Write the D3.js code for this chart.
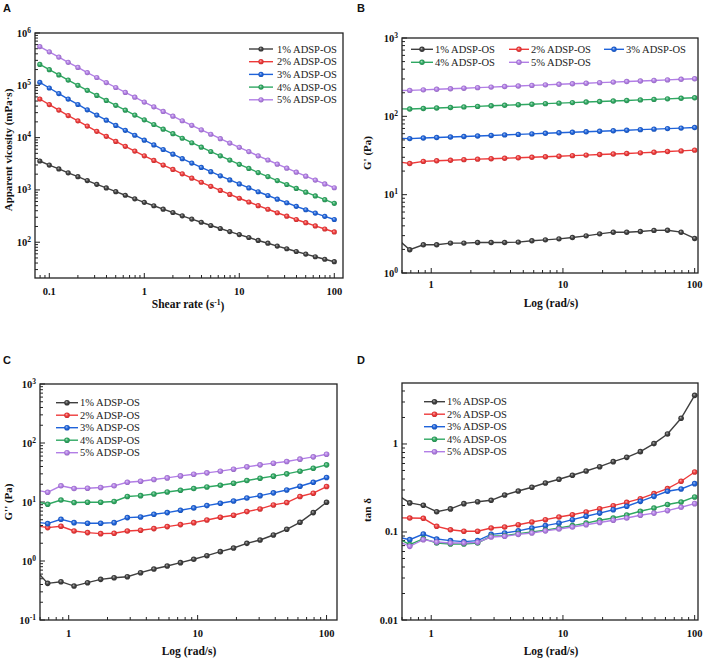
<!DOCTYPE html>
<html><head><meta charset="utf-8">
<script src="https://cdn.jsdelivr.net/npm/d3@7/dist/d3.min.js"></script>
<style>
html,body{margin:0;padding:0;background:#fff;}
svg{display:block;}
</style></head>
<body>
<svg id="chart" width="708" height="660"></svg>
<script>
// ---------------- DATA ----------------
const seriesNames = ["1% ADSP-OS","2% ADSP-OS","3% ADSP-OS","4% ADSP-OS","5% ADSP-OS"];

// Panel A: shear rate (1/s) and apparent viscosity (mPa·s)
const shearRate = [0.0794,0.1,0.126,0.158,0.2,0.251,0.316,0.398,0.501,0.631,0.794,1,1.26,1.58,2,2.51,3.16,3.98,5.01,6.31,7.94,10,12.6,15.8,20,25.1,31.6,39.8,50.1,63.1,79.4,100];
const visc1 = [3570,2990,2520,2120,1790,1510,1280,1090,927,791,676,579,498,429,370,320,277,241,209,183,160,140,123,108,95.7,84.5,75.0,66.5,59.3,52.8,47.3,42.4];
const visc2 = [54700,42800,33600,26400,20900,16600,13200,10600,8470,6820,5520,4490,3660,2990,2460,2030,1680,1400,1170,977,820,693,587,500,427,366,315,272,236,205,179,157];
const visc3 = [114000,88900,69500,54600,43000,34000,27000,21500,17100,13800,11100,8950,7260,5920,4830,3960,3260,2690,2230,1860,1550,1300,1090,923,782,665,568,486,418,361,313,272];
const visc4 = [251000,199000,158000,126000,100000,80000,64100,51400,41400,33400,27000,21900,17800,14500,11900,9730,7980,6560,5420,4480,3720,3080,2570,2150,1800,1510,1270,1070,904,766,652,555];
const visc5 = [550000,436000,346000,275000,220000,175000,141000,113000,90800,73100,59200,47900,38800,31600,25700,21000,17200,14100,11600,9530,7870,6520,5400,4480,3730,3110,2600,2180,1830,1540,1300,1100];

// Panels B-D: angular frequency (rad/s); first point lies left of the visible axis
const freq = [0.542,0.687,0.871,1.10,1.40,1.77,2.25,2.85,3.61,4.58,5.81,7.36,9.33,11.8,15.0,19.0,24.1,30.5,38.7,49.1,62.2,78.9,100];

// Panel B: storage modulus G' (Pa)
const gp1 = [2.80,1.98,2.29,2.29,2.41,2.41,2.45,2.45,2.45,2.48,2.58,2.65,2.73,2.84,2.98,3.16,3.32,3.32,3.39,3.50,3.52,3.32,2.76];
const gp2 = [26.5,25.0,26.6,27.1,27.5,28.0,28.4,28.8,29.2,29.6,30.0,30.5,31.0,31.5,32.0,32.5,33.1,33.6,34.2,34.8,35.5,36.2,37.0];
const gp3 = [52.5,52.0,52.8,53.6,54.5,55.3,56.2,57.0,57.9,58.8,59.7,60.7,61.6,62.6,63.5,64.5,65.5,66.5,67.6,68.6,69.7,70.8,71.9];
const gp4 = [125,123.9,125.9,127.9,129.9,131.9,134.0,136.2,138.4,140.6,142.8,145.1,147.4,149.7,152.1,154.5,157.0,159.5,162.0,164.6,167.2,169.9,172.6];
const gp5 = [213,214.3,217.8,221.4,225.0,228.7,232.5,236.3,240.2,244.1,248.1,252.2,256.3,260.5,264.8,269.2,273.6,278.1,282.7,287.3,292.0,296.8,301.7];

// Panel C: loss modulus G'' (Pa)
const gpp1 = [0.74,0.418,0.446,0.376,0.429,0.489,0.521,0.542,0.634,0.731,0.822,0.938,1.07,1.23,1.44,1.66,1.99,2.27,2.76,3.45,4.53,6.61,9.9];
const gpp2 = [4.0,3.68,3.88,3.23,3.03,2.91,2.95,3.23,3.32,3.54,3.83,4.14,4.47,4.96,5.51,5.96,6.88,7.63,8.92,9.78,12.4,14.1,18.3];
const gpp3 = [4.6,4.30,5.10,4.47,4.36,4.36,4.47,5.44,5.58,6.20,6.61,7.24,7.94,8.69,9.53,10.4,11.7,12.8,14.3,16.0,18.5,21.6,26.0];
const gpp4 = [10.3,9.16,10.8,9.78,9.9,9.9,10.2,12.4,12.8,13.7,14.8,15.8,16.9,18.0,19.2,20.8,23.1,25.3,27.4,30.0,33.3,37.4,42.6];
const gpp5 = [16.1,14.6,18.8,16.9,17.1,17.6,18.8,21.6,22.5,24.0,25.6,27.7,29.6,31.2,33.3,36.0,39.4,42.6,45.5,48.5,53.2,58.2,64.6];

// Panel D: loss tangent tan δ
const tan1 = [0.269,0.214,0.201,0.170,0.183,0.210,0.221,0.229,0.263,0.292,0.322,0.360,0.397,0.441,0.493,0.552,0.630,0.705,0.818,1.01,1.30,1.96,3.57];
const tan2 = [0.145,0.144,0.143,0.116,0.106,0.102,0.102,0.111,0.114,0.121,0.130,0.138,0.148,0.157,0.169,0.184,0.199,0.217,0.239,0.273,0.311,0.377,0.481];
const tan3 = [0.0885,0.0818,0.0949,0.0832,0.0797,0.0777,0.0797,0.094,0.0975,0.103,0.111,0.118,0.126,0.138,0.151,0.164,0.179,0.196,0.223,0.254,0.290,0.308,0.354];
const tan4 = [0.0867,0.0718,0.0840,0.0750,0.0731,0.0731,0.0750,0.0893,0.0908,0.0957,0.100,0.105,0.111,0.118,0.126,0.136,0.144,0.156,0.172,0.187,0.205,0.219,0.250];
const tan5 = [0.080,0.0687,0.0818,0.0769,0.0750,0.0750,0.0763,0.0877,0.0893,0.0940,0.0975,0.103,0.108,0.114,0.121,0.128,0.136,0.144,0.155,0.164,0.175,0.191,0.210];

// Tick values
const ticksA_x = [0.1,1,10,100];
const ticksA_y = [100,1000,10000,100000,1000000];
const ticksBCD_x = [1,10,100];
const ticksB_y = [1,10,100,1000];
const ticksC_y = [0.1,1,10,100,1000];
const ticksD_y = [0.01,0.1,1];

// ---------------- STYLE ----------------
const colors = ["#3f3f3f","#ee3a3a","#1f63da","#2fa862","#b27ee6"];
const serif = "'Liberation Serif','Times New Roman',serif";
const svg = d3.select("#chart");
const defs = svg.append("defs");
colors.forEach((c,i)=>{
  const g = defs.append("radialGradient").attr("id","ball"+i)
    .attr("cx","0.5").attr("cy","0.5").attr("r","0.55").attr("fx","0.38").attr("fy","0.35");
  g.append("stop").attr("offset","0%").attr("stop-color", d3.interpolateRgb(c,"#ffffff")(0.6));
  g.append("stop").attr("offset","50%").attr("stop-color", c);
  g.append("stop").attr("offset","100%").attr("stop-color", d3.interpolateRgb(c,"#000000")(0.2));
});

function expLabel(sel, v){
  const e = Math.round(Math.log10(v));
  sel.append("tspan").text("10");
  sel.append("tspan").attr("dy","-0.5em").attr("font-size","7.5px").text(String(e));
}

function minorTicks(domain){
  const out=[];
  const lo=Math.floor(Math.log10(domain[0])), hi=Math.ceil(Math.log10(domain[1]));
  for(let k=lo;k<=hi;k++){
    for(let m=2;m<=9;m++){
      const v=m*Math.pow(10,k);
      if(v>=domain[0]&&v<=domain[1]) out.push(v);
    }
  }
  return out;
}

function panel(cfg){
  const g = svg.append("g");
  const x = d3.scaleLog().domain(cfg.xDomain).range([cfg.x0,cfg.x1]);
  const y = d3.scaleLog().domain(cfg.yDomain).range([cfg.y1,cfg.y0]);
  const cid = "clip"+cfg.id;
  defs.append("clipPath").attr("id",cid).append("rect")
    .attr("x",cfg.x0).attr("y",cfg.y0).attr("width",cfg.x1-cfg.x0).attr("height",cfg.y1-cfg.y0);

  // ticks (inward)
  const tk = g.append("g").attr("stroke","#222").attr("stroke-width",1);
  cfg.xTicks.forEach(v=>tk.append("line").attr("x1",x(v)).attr("x2",x(v)).attr("y1",cfg.y1).attr("y2",cfg.y1-5));
  minorTicks(cfg.xDomain).forEach(v=>tk.append("line").attr("x1",x(v)).attr("x2",x(v)).attr("y1",cfg.y1).attr("y2",cfg.y1-3));
  cfg.yTicks.forEach(v=>tk.append("line").attr("y1",y(v)).attr("y2",y(v)).attr("x1",cfg.x0).attr("x2",cfg.x0+5));
  minorTicks(cfg.yDomain).forEach(v=>tk.append("line").attr("y1",y(v)).attr("y2",y(v)).attr("x1",cfg.x0).attr("x2",cfg.x0+3));

  // tick labels
  cfg.xTicks.forEach(v=>{
    g.append("text").attr("x",x(v)).attr("y",cfg.y1+cfg.xLabelOff)
      .attr("text-anchor","middle").attr("font-family",serif).attr("font-weight","bold")
      .attr("font-size","10.5px").attr("fill","#111").text(d3.format("~g")(v));
  });
  cfg.yTicks.forEach(v=>{
    const t = g.append("text").attr("x",cfg.x0-4).attr("y",y(v)+3.5)
      .attr("text-anchor","end").attr("font-family",serif).attr("font-weight","bold")
      .attr("font-size","10.5px").attr("fill","#111");
    if(cfg.expY) expLabel(t,v); else t.text(d3.format("~g")(v));
  });

  // series
  const plot = g.append("g").attr("clip-path","url(#"+cid+")");
  const line = d3.line().x(d=>x(d[0])).y(d=>y(d[1]));
  cfg.series.forEach((vals,i)=>{
    const pts = cfg.xs.map((xv,j)=>[xv,vals[j]]);
    plot.append("path").attr("d",line(pts)).attr("fill","none")
      .attr("stroke",colors[i]).attr("stroke-width",1.4);
    plot.selectAll(null).data(pts).enter().append("circle")
      .attr("cx",d=>x(d[0])).attr("cy",d=>y(d[1])).attr("r",cfg.r)
      .attr("fill","url(#ball"+i+")");
  });

  // frame
  g.append("rect").attr("x",cfg.x0).attr("y",cfg.y0).attr("width",cfg.x1-cfg.x0).attr("height",cfg.y1-cfg.y0)
    .attr("fill","none").attr("stroke","#222").attr("stroke-width",1.3);

  // legend
  cfg.legend.forEach((L,i)=>{
    g.append("line").attr("x1",L.lx0).attr("x2",L.lx1).attr("y1",L.y).attr("y2",L.y)
      .attr("stroke",colors[i]).attr("stroke-width",1.4);
    g.append("circle").attr("cx",(L.lx0+L.lx1)/2).attr("cy",L.y).attr("r",cfg.r)
      .attr("fill","url(#ball"+i+")");
    g.append("text").attr("x",L.tx).attr("y",L.y+3.6).attr("font-family",serif)
      .attr("font-size","10.5px").attr("fill","#222").text(seriesNames[i]);
  });

  // axis titles
  const xt = g.append("text").attr("x",cfg.xTitle.x).attr("y",cfg.xTitle.y).attr("text-anchor","middle")
    .attr("font-family",serif).attr("font-weight","bold").attr("font-size","11.5px").attr("fill","#111");
  cfg.xTitle.parts.forEach(p=>{
    const ts = xt.append("tspan").text(p.t);
    if(p.sup) ts.attr("dy","-0.45em").attr("font-size","7.5px");
    if(p.back) ts.attr("dy","0.45em");
  });
  g.append("text").attr("transform",`translate(${cfg.yTitle.x},${cfg.yTitle.y}) rotate(-90)`)
    .attr("text-anchor","middle").attr("font-family",serif).attr("font-weight","bold")
    .attr("font-size","11px").attr("fill","#111").text(cfg.yTitle.t);

  // panel letter
  svg.append("text").attr("x",cfg.letter.x).attr("y",cfg.letter.y)
    .attr("font-family","'Liberation Sans',Arial,sans-serif").attr("font-weight","bold")
    .attr("font-size","11px").attr("fill","#111").text(cfg.letter.t);
}

function stackLegend(lx0,lx1,tx,y0,dy){
  return seriesNames.map((_,i)=>({lx0,lx1,tx,y:y0+dy*i}));
}

panel({
  id:"A", x0:35,x1:343,y0:33,y1:278,
  xDomain:[0.0707,123.5], yDomain:[20.7,1e6],
  xTicks:ticksA_x, yTicks:ticksA_y, expY:true, xLabelOff:17, r:2.6,
  xs:shearRate, series:[visc1,visc2,visc3,visc4,visc5],
  legend:stackLegend(249,273,277,49,12.7),
  xTitle:{x:188,y:308,parts:[{t:"Shear rate (s"},{t:"-1",sup:true},{t:")",back:true}]},
  yTitle:{x:12,y:150,t:"Apparent vicosity (mPa·s)"},
  letter:{x:3,y:12,t:"A"}
});

panel({
  id:"B", x0:402,x1:698,y0:38,y1:273,
  xDomain:[0.6,106], yDomain:[1,1000],
  xTicks:ticksBCD_x, yTicks:ticksB_y, expY:true, xLabelOff:15, r:2.7,
  xs:freq, series:[gp1,gp2,gp3,gp4,gp5],
  legend:[
    {lx0:411,lx1:433,tx:435,y:49.3},
    {lx0:509,lx1:529,tx:531,y:49.3},
    {lx0:604,lx1:624,tx:626,y:49.3},
    {lx0:411,lx1:433,tx:435,y:62.3},
    {lx0:509,lx1:529,tx:531,y:62.3}
  ],
  xTitle:{x:551,y:307,parts:[{t:"Log (rad/s)"}]},
  yTitle:{x:371,y:153,t:"G' (Pa)"},
  letter:{x:357,y:12,t:"B"}
});

panel({
  id:"C", x0:40,x1:337,y0:384,y1:620,
  xDomain:[0.599,120.5], yDomain:[0.1,1000],
  xTicks:ticksBCD_x, yTicks:ticksC_y, expY:true, xLabelOff:17, r:2.8,
  xs:freq, series:[gpp1,gpp2,gpp3,gpp4,gpp5],
  legend:stackLegend(56,78,80,402.7,12.5),
  xTitle:{x:189,y:655,parts:[{t:"Log (rad/s)"}]},
  yTitle:{x:12,y:502,t:"G'' (Pa)"},
  letter:{x:3,y:364,t:"C"}
});

panel({
  id:"D", x0:402,x1:698,y0:383,y1:620,
  xDomain:[0.6,106], yDomain:[0.01,4.93],
  xTicks:ticksBCD_x, yTicks:ticksD_y, expY:false, xLabelOff:17, r:2.8,
  xs:freq, series:[tan1,tan2,tan3,tan4,tan5],
  legend:stackLegend(424,445,447,401.7,12.5),
  xTitle:{x:551,y:655,parts:[{t:"Log (rad/s)"}]},
  yTitle:{x:371,y:510,t:"tan δ"},
  letter:{x:357,y:364,t:"D"}
});
</script>
</body></html>
